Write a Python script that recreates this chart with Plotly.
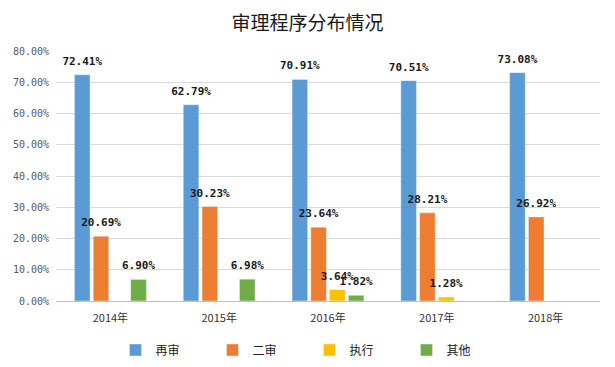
import plotly.graph_objects as go

years = ["2014年", "2015年", "2016年", "2017年", "2018年"]
series_names = ["再审", "二审", "执行", "其他"]
zaishen = [72.41, 62.79, 70.91, 70.51, 73.08]
ershen = [20.69, 30.23, 23.64, 28.21, 26.92]
zhixing = [None, None, 3.64, 1.28, None]
qita = [6.90, 6.98, 1.82, None, None]
y_ticks = [0, 10, 20, 30, 40, 50, 60, 70, 80]
y_tick_labels = ["0.00%", "10.00%", "20.00%", "30.00%", "40.00%", "50.00%", "60.00%", "70.00%", "80.00%"]

colors = ["#5B9BD5", "#ED7D31", "#FFC000", "#70AD47"]
all_values = [zaishen, ershen, zhixing, qita]

fig = go.Figure()
for i, (name, vals) in enumerate(zip(series_names, all_values)):
    fig.add_trace(go.Bar(
        x=years, y=vals, name=name, marker_color=colors[i],
        offsetgroup=str(i), showlegend=True,
    ))
for i, (name, vals) in enumerate(zip(series_names, all_values)):
    fig.add_trace(go.Scatter(
        x=years, y=vals, mode="markers+text", offsetgroup=str(i),
        marker=dict(size=10, opacity=0),
        text=[f"{v:.2f}%" if v is not None else "" for v in vals],
        textposition="top center",
        textfont=dict(family="DejaVu Sans Mono", size=11, color="#1a1a1a", weight="bold"),
        showlegend=False, hoverinfo="skip", cliponaxis=False,
    ))

fig.update_layout(
    width=615, height=367,
    margin=dict(l=56, r=15, t=51, b=66, autoexpand=False),
    paper_bgcolor="white", plot_bgcolor="white",
    barmode="group", scattermode="group",
    bargap=0.31, bargroupgap=0.17,
    title=dict(text="审理程序分布情况", x=0.5, xref="container", xanchor="center",
               y=1 - 23.5 / 367, yref="container", yanchor="middle",
               font=dict(family="Noto Sans CJK SC", size=19, color="#1a1a1a")),
    font=dict(family="Noto Sans CJK SC"),
    legend=dict(orientation="h", x=0.466, xanchor="center",
                y=-0.196, yanchor="middle",
                entrywidth=52, itemwidth=30,
                font=dict(family="Noto Sans CJK SC", size=12, color="#222222")),
    showlegend=True,
)
fig.update_xaxes(
    showline=True, linecolor="#BFBFBF", linewidth=1, ticks="",
    tickfont=dict(family="Noto Sans CJK SC", size=11, color="#333333"),
    showgrid=False, automargin=False, ticklabelstandoff=7,
)
fig.update_yaxes(
    range=[0, 80], tickvals=y_ticks, ticktext=y_tick_labels,
    showgrid=True, gridcolor="#D9D9D9", gridwidth=1, zeroline=False,
    tickfont=dict(family="DejaVu Sans Mono", size=10, color="#595959"),
    ticks="", ticklabelstandoff=6, automargin=False,
)

fig.write_html(
    "out.html",
    config={"displayModeBar": False},
    post_script="document.body.style.margin='0';document.body.style.padding='0';",
)
